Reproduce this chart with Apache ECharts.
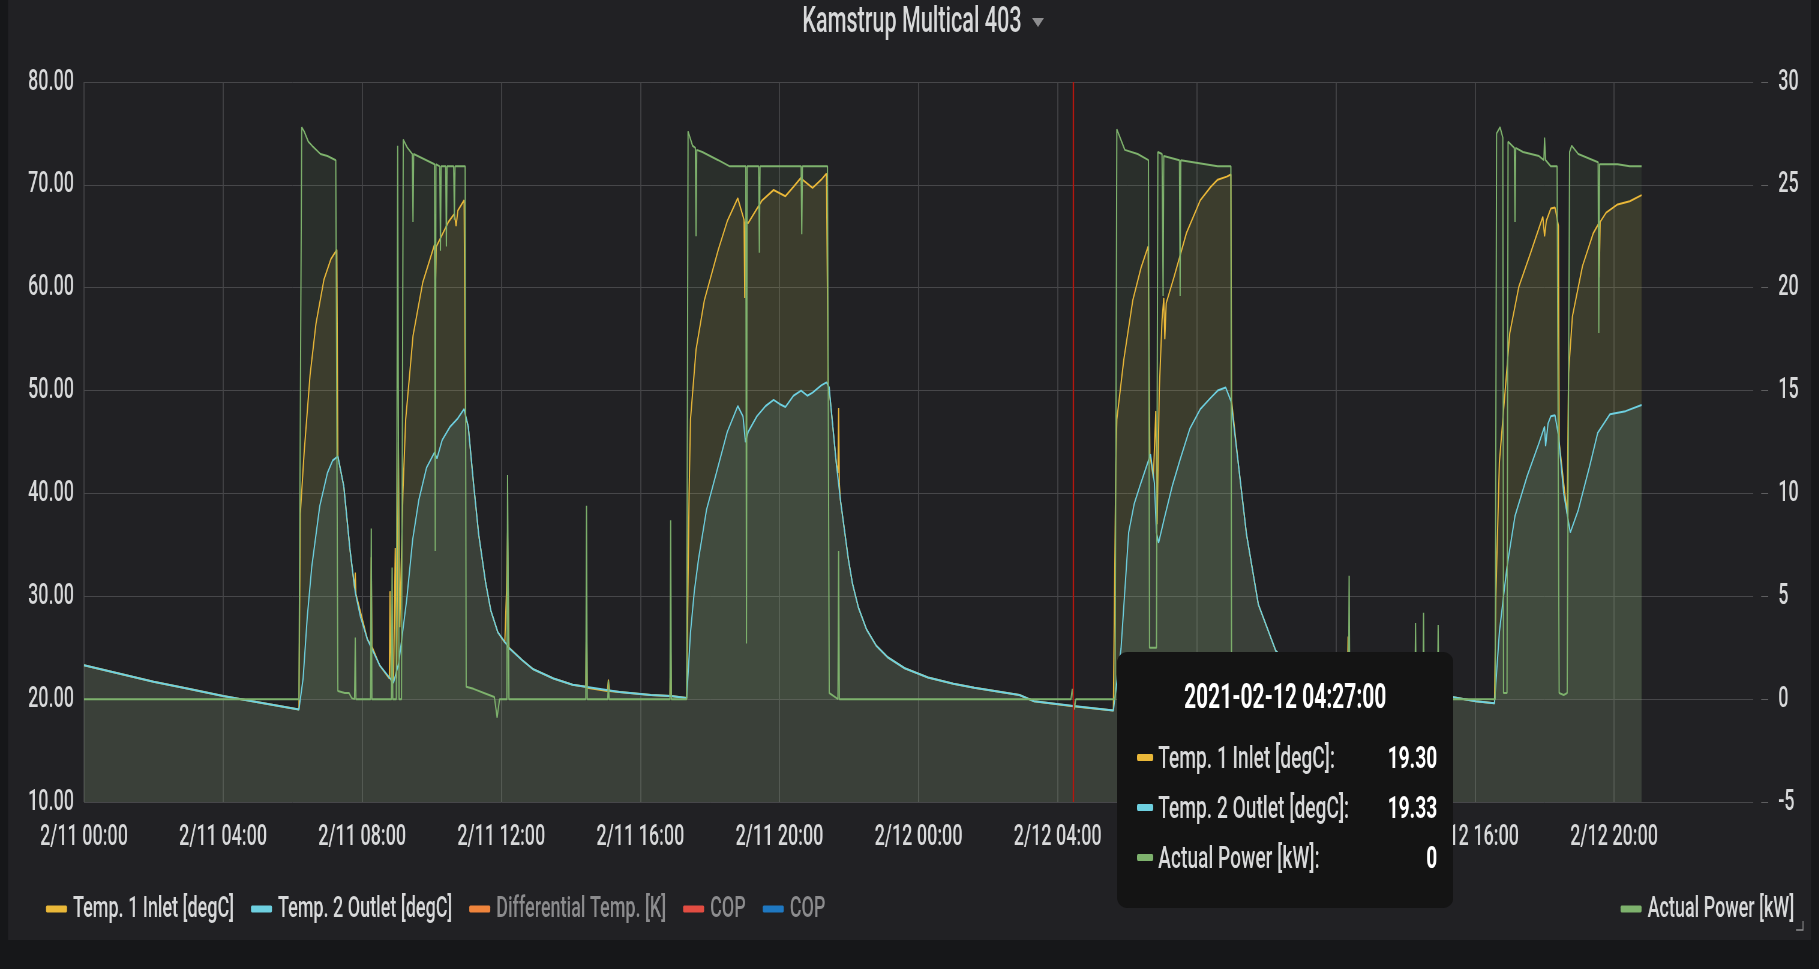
<!DOCTYPE html>
<html>
<head>
<meta charset="utf-8">
<script src="https://cdn.jsdelivr.net/npm/echarts@6/dist/echarts.min.js"></script>
<style>
  html, body { margin: 0; padding: 0; background: #161719; overflow: hidden; }
  #chart { width: 3032px; height: 969px; transform: scaleX(0.6); transform-origin: 0 0; }
</style>
</head>
<body>
<div id="chart"></div>
<script>
// ---------- data (x = hours since 2021-02-11 00:00) ----------
const xTickLabels = ['2/11 00:00','2/11 04:00','2/11 08:00','2/11 12:00','2/11 16:00','2/11 20:00',
  '2/12 00:00','2/12 04:00','2/12 08:00','2/12 12:00','2/12 16:00','2/12 20:00','2/13 00:00'];
const leftTicks = [10, 20, 30, 40, 50, 60, 70, 80];
const rightTicks = [-5, 0, 5, 10, 15, 20, 25, 30];

const inletTemp = [
[0,23.3],[1,22.5],[2,21.7],[3,21.0],[4,20.3],[5,19.7],[6.18,19.0],
[6.22,38.0],[6.33,44.0],[6.5,51.5],[6.67,56.5],[6.9,60.8],[7.1,62.8],[7.27,63.7],[7.3,43.6],
[7.47,40.7],[7.65,34.5],[7.78,30.8],[7.8,32.3],[7.82,30.2],[8.15,25.8],[8.24,25.3],[8.26,33.8],[8.28,25.1],[8.5,23.3],[8.78,22.0],[8.8,30.5],[8.83,21.8],[8.9,21.6],[8.95,34.7],[8.99,22.0],[9.04,45.0],[9.08,27.0],
[9.17,40.0],[9.25,47.2],[9.46,55.3],[9.74,60.5],[10.08,64.2],[10.1,59.0],[10.13,64.0],[10.48,66.4],[10.65,67.2],[10.7,66.0],[10.75,67.5],[10.93,68.5],[10.97,47.5],
[11.05,46.5],[11.2,41.0],[11.35,36.0],[11.55,31.3],[11.7,28.6],[11.9,26.5],[12.1,25.5],[12.15,30.6],[12.18,36.2],[12.22,25.0],[12.6,23.8],[12.92,22.9],[13.5,22.0],[14.05,21.4],[14.43,21.2],[14.45,29.2],[14.47,21.1],[15.05,20.8],[15.08,21.9],[15.11,20.8],[15.4,20.7],[16.3,20.4],[16.85,20.3],[16.87,26.0],[16.89,20.3],[17.33,20.1],
[17.4,40.0],[17.44,47.2],[17.6,54.0],[17.84,58.8],[18.24,63.7],[18.5,66.5],[18.8,68.7],[18.98,66.6],[19.0,59.0],[19.02,66.4],[19.1,66.3],[19.5,68.5],[19.83,69.5],[20.17,68.9],[20.4,69.8],[20.62,70.7],[20.64,69.5],[20.66,70.5],[20.95,69.7],[21.2,70.5],[21.35,71.1],[21.4,50.5],
[21.46,49.1],[21.64,42.7],[21.68,42.0],[21.7,48.3],[21.72,41.0],[21.75,39.4],[21.98,33.6],[22.1,31.2],[22.27,28.9],[22.5,26.8],[22.78,25.2],[23.1,24.1],[23.6,23.0],[24.27,22.1],[25.0,21.5],[25.6,21.1],[26.9,20.4],[27.32,19.8],[28.45,19.30],[29.6,18.9],
[29.67,42.7],[29.7,47.2],[29.9,53.0],[30.16,58.8],[30.4,62.0],[30.6,64.0],[30.65,43.8],[30.75,41.5],[30.82,48.0],[30.86,37.0],[30.92,50.0],[31.0,56.9],[31.05,59.0],[31.08,55.0],[31.12,58.5],[31.35,61.1],[31.7,65.3],[32.1,68.5],[32.4,69.8],[32.6,70.5],[32.86,70.8],[32.98,71.0],[33.0,49.0],
[33.2,42.7],[33.43,36.0],[33.77,29.2],[34.27,24.7],[34.8,23.0],[35.5,22.0],[36.33,21.3],[36.35,26.1],[36.37,21.2],[36.5,21.1],[37.5,20.6],[38.5,20.3],[39.34,20.2],[40.02,19.8],[40.56,19.6],
[40.6,30.0],[40.7,43.0],[40.8,47.2],[41.0,55.6],[41.26,60.1],[41.6,63.4],[41.95,66.9],[42.0,65.0],[42.05,66.5],[42.18,67.7],[42.3,67.8],[42.4,66.0],[42.42,45.0],[42.55,41.0],[42.65,38.0],[42.69,51.7],[42.8,57.2],[43.09,62.1],[43.4,65.3],[43.55,66.2],[43.57,61.0],[43.6,66.4],[43.77,67.3],[44.1,68.1],[44.45,68.4],[44.79,69.0]
];

const outletTemp = [
[0,23.3],[1,22.5],[2,21.7],[3,21.0],[4,20.3],[5,19.7],[6.18,19.0],
[6.3,22.0],[6.42,28.0],[6.55,32.9],[6.78,38.8],[7.0,42.0],[7.15,43.2],[7.3,43.6],[7.47,40.7],[7.65,34.5],[7.8,30.4],[7.95,28.0],[8.15,25.8],[8.5,23.3],[8.9,21.6],
[9.05,23.5],[9.28,29.7],[9.45,35.5],[9.63,39.4],[9.85,42.5],[10.08,44.0],[10.15,43.4],[10.3,45.2],[10.53,46.5],[10.75,47.3],[10.93,48.2],[11.05,46.5],[11.2,41.0],[11.35,36.0],[11.55,31.3],[11.7,28.6],[11.9,26.5],[12.24,24.9],[12.6,23.8],[12.92,22.9],[13.5,22.0],[14.05,21.4],[15.4,20.7],[16.3,20.4],[16.87,20.3],[17.33,20.1],
[17.44,26.5],[17.55,30.5],[17.67,33.6],[17.9,38.4],[18.24,42.7],[18.5,46.0],[18.8,48.5],[18.95,47.5],[19.02,45.0],[19.1,46.0],[19.35,47.5],[19.6,48.5],[19.83,49.1],[20.0,48.7],[20.17,48.4],[20.4,49.5],[20.62,50.0],[20.8,49.5],[20.95,49.8],[21.2,50.5],[21.35,50.8],[21.43,50.3],
[21.46,49.1],[21.64,42.7],[21.75,39.4],[21.98,33.6],[22.1,31.2],[22.27,28.9],[22.5,26.8],[22.78,25.2],[23.1,24.1],[23.6,23.0],[24.27,22.1],[25.0,21.5],[25.6,21.1],[26.9,20.4],[27.32,19.8],[28.45,19.33],[29.6,18.9],
[29.82,24.9],[30.04,36.2],[30.2,39.0],[30.39,41.0],[30.67,43.8],[30.78,41.0],[30.84,36.2],[30.9,35.2],[31.06,37.5],[31.3,40.8],[31.52,43.3],[31.8,46.3],[32.1,48.2],[32.4,49.3],[32.6,50.0],[32.83,50.3],[32.98,49.0],
[33.2,42.7],[33.43,36.0],[33.77,29.2],[34.27,24.7],[34.8,23.0],[35.5,22.0],[36.5,21.1],[37.5,20.6],[38.5,20.3],[39.34,20.2],[40.02,19.8],[40.56,19.6],
[40.7,26.5],[40.92,32.9],[41.15,37.8],[41.5,41.7],[41.84,44.9],[42.0,46.5],[42.03,44.6],[42.1,46.8],[42.18,47.5],[42.3,47.6],[42.4,45.6],[42.55,40.0],[42.74,36.2],[42.97,38.4],[43.3,42.7],[43.53,45.9],[43.88,47.7],[44.33,48.0],[44.79,48.6]
];

const actualPower = [
[0,0],[6.18,0],[6.26,27.8],[6.33,27.6],[6.45,27.1],[6.56,26.9],[6.8,26.5],[7.0,26.4],[7.24,26.2],[7.3,0.4],[7.5,0.3],[7.62,0.3],[7.7,0.05],[7.78,0],[7.8,3.0],[7.82,0],[8.24,0],[8.26,8.3],[8.28,0],[8.84,0],[8.86,6.4],[8.88,0],[8.98,0],[9.02,26.9],[9.06,0],[9.13,0],
[9.18,27.2],[9.3,26.8],[9.44,26.5],[9.46,23.2],[9.48,26.5],[10.08,26.0],[10.1,7.2],[10.12,26.0],[10.23,25.9],[10.25,21.8],[10.27,25.9],[10.4,25.9],[10.42,22.0],[10.44,25.9],[10.63,25.9],[10.65,23.3],[10.67,25.9],[10.96,25.9],[10.99,0.6],[11.2,0.5],[11.5,0.3],[11.8,0.1],[11.88,-0.9],[11.95,0],
[12.16,0],[12.18,10.9],[12.22,0],[14.43,0],[14.45,9.4],[14.47,0],[15.06,0],[15.08,0.9],[15.1,0],[16.85,0],[16.87,8.7],[16.89,0],[17.33,0],
[17.37,27.6],[17.5,26.9],[17.58,26.8],[17.6,22.5],[17.62,26.7],[17.78,26.6],[18.24,26.2],[18.57,25.9],[19.03,25.9],[19.05,2.7],[19.07,25.9],[19.4,25.9],[19.42,21.7],[19.44,25.9],[20.62,25.9],[20.64,22.6],[20.66,25.9],[21.38,25.9],[21.43,0.3],[21.6,0.1],[21.68,0],[21.7,7.2],[21.72,0],
[28.38,0],[28.42,0.5],[28.45,0],[28.48,-0.5],[28.52,0],[29.65,0],
[29.7,27.7],[29.93,26.7],[30.3,26.5],[30.61,26.2],[30.64,2.5],[30.84,2.5],[30.88,26.6],[31.0,26.5],[31.03,19.6],[31.05,26.4],[31.5,26.2],[31.52,19.6],[31.54,26.2],[32.6,25.9],[32.98,25.9],[33.0,0],
[36.36,0],[36.38,6.0],[36.4,0],[38.27,0],[38.29,3.7],[38.31,0],[38.5,0],[38.52,4.2],[38.54,0],[38.92,0],[38.94,3.6],[38.96,0],[40.58,0],
[40.62,27.5],[40.72,27.8],[40.8,27.3],[40.82,0.3],[40.92,0.3],[40.95,27.1],[41.13,26.8],[41.15,23.2],[41.17,26.8],[41.38,26.6],[41.84,26.4],[41.98,26.2],[42.0,27.3],[42.03,26.2],[42.18,25.9],[42.36,25.9],[42.42,0.3],[42.55,0.2],[42.65,0.3],
[42.72,26.6],[42.78,26.9],[42.97,26.5],[43.4,26.2],[43.54,26.1],[43.56,17.8],[43.58,26.0],[44.1,26.0],[44.45,25.9],[44.79,25.9]
];
const diffTemp = [];
const cop1 = [];
const cop2 = [];
const cursorHour = 28.45; // 2021-02-12 04:27:00

// ---------- layout helpers (page is squeezed horizontally by S) ----------
const S = 0.6;
const W = 1819 / S;
const px = v => v / S;

const TEXT = '#d8d9da';
const GRID = '#47474a';
const FONT = 'Roboto';

function pad(n) { return (n < 10 ? '0' : '') + n; }
function hourToStamp(h) {
  const totalMin = Math.round(h * 60);
  const day = 11 + Math.floor(totalMin / 1440);
  const hh = Math.floor((totalMin % 1440) / 60);
  const mm = totalMin % 60;
  return '2021-02-' + pad(day) + ' ' + pad(hh) + ':' + pad(mm) + ':00';
}

const chart = echarts.init(document.getElementById('chart'), null, { renderer: 'canvas' });

function mkSeries(name, color, data, yAxisIndex) {
  return {
    name, type: 'line', data, yAxisIndex,
    showSymbol: false, symbol: 'none', animation: false,
    color: color,
    lineStyle: { color, width: 2 },
    itemStyle: { color },
    areaStyle: { color, opacity: 0.1 },
    emphasis: { disabled: true }
  };
}

const option = {
  animation: false,
  backgroundColor: '#212124',
  textStyle: { fontFamily: FONT },
  grid: { left: px(84), right: W - px(1753), top: 82, bottom: 167, containLabel: false },
  xAxis: {
    type: 'value', min: 0, max: 48, interval: 4,
    axisLine: { show: false }, axisTick: { show: false },
    axisLabel: {
      color: TEXT, fontSize: 30, fontWeight: 500, fontFamily: FONT, margin: 20,
      showMaxLabel: false,
      formatter: v => xTickLabels[Math.round(v / 4)]
    },
    splitLine: { show: true, showMinLine: true, showMaxLine: false, lineStyle: { color: GRID, width: 1.67 } }
  },
  yAxis: [
    {
      type: 'value', min: leftTicks[0], max: leftTicks[leftTicks.length - 1], interval: 10,
      axisLine: { show: false }, axisTick: { show: false },
      axisLabel: { color: TEXT, fontSize: 30, fontWeight: 500, fontFamily: FONT, margin: px(10), formatter: v => v.toFixed(2) },
      splitLine: { show: true, lineStyle: { color: GRID, width: 1 } }
    },
    {
      type: 'value', position: 'right', min: rightTicks[0], max: rightTicks[rightTicks.length - 1], interval: 5,
      offset: px(8),
      axisLine: { show: false },
      axisTick: { show: true, length: px(7), lineStyle: { color: '#5e5e60', width: 1 } },
      axisLabel: { color: TEXT, fontSize: 30, fontWeight: 500, fontFamily: FONT, margin: px(17) },
      splitLine: { show: false }
    }
  ],
  legend: [
    {
      left: px(43), top: 889, orient: 'horizontal', icon: 'roundRect',
      itemWidth: px(21), itemHeight: 7, itemGap: px(17),
      textStyle: { color: TEXT, fontSize: 30, fontWeight: 500, fontFamily: FONT, padding: [0, 0, 0, 5] },
      selectedMode: false,
      data: [
        { name: 'Temp. 1 Inlet [degC]' },
        { name: 'Temp. 2 Outlet [degC]' },
        { name: 'Differential Temp. [K]', textStyle: { color: '#8c8c8e' } },
        { name: 'COP', textStyle: { color: '#8c8c8e' } },
        { name: 'COP\u200B', textStyle: { color: '#8c8c8e' } }
      ]
    },
    {
      right: W - px(1797), top: 889, icon: 'roundRect',
      itemWidth: px(21), itemHeight: 7,
      textStyle: { color: TEXT, fontSize: 30, fontWeight: 500, fontFamily: FONT, padding: [0, 0, 0, 5] },
      selectedMode: false,
      data: [{ name: 'Actual Power [kW]' }]
    }
  ],
  tooltip: {
    show: true, trigger: 'axis', triggerOn: 'none', alwaysShowContent: true,
    transitionDuration: 0, confine: false,
    backgroundColor: '#141414', borderWidth: 0, padding: 0,
    extraCssText: 'box-shadow:none;border-radius:17px/10px;',
    position: [px(1117), 652],
    axisPointer: { type: 'line', animation: false, z: 50, label: { show: false }, lineStyle: { color: '#b3170f', width: 2.4, type: 'solid' } },
    formatter: function (params) {
      const shown = params.filter(p => p.value && p.value.length);
      let html = '<div style="width:' + px(336) + 'px;height:256px;box-sizing:border-box;padding-top:20px;font-family:Roboto;">';
      html += '<div style="text-align:center;font:700 35px/50px Roboto;color:#ffffff;">' + hourToStamp(shown[0].value[0]) + '</div>';
      html += '<div style="height:10px"></div>';
      shown.forEach(p => {
        const v = p.value[1];
        const txt = p.seriesName.indexOf('Power') >= 0 ? String(v) : v.toFixed(2);
        html += '<div style="display:flex;align-items:center;height:50px;padding:0 ' + px(16) + 'px 0 ' + px(20) + 'px;font:500 32px Roboto;color:' + TEXT + ';">' +
          '<span style="display:inline-block;width:' + px(16) + 'px;height:7px;border-radius:2px;background:' + p.color + ';margin-right:' + px(5) + 'px"></span>' +
          '<span style="flex:1">' + p.seriesName + ':</span>' +
          '<span style="font-weight:700;color:#ffffff">' + txt + '</span></div>';
      });
      html += '</div>';
      return html;
    }
  },
  graphic: [
    { type: 'rect', silent: true, shape: { x: 0, y: 0, width: px(8), height: 969 }, style: { fill: '#161719' } },
    { type: 'rect', silent: true, shape: { x: 0, y: 940, width: W, height: 29 }, style: { fill: '#161719' } },
    { type: 'rect', silent: true, shape: { x: px(1811), y: 0, width: W - px(1811), height: 969 }, style: { fill: '#161719' } },
    { type: 'text', silent: true, x: px(912), y: 23,
      style: { text: 'Kamstrup Multical 403', fill: TEXT, font: '500 36px Roboto', textAlign: 'center', textVerticalAlign: 'middle' } },
    { type: 'polygon', silent: true,
      shape: { points: [[px(1032), 18], [px(1044), 18], [px(1038), 27]] }, style: { fill: '#8e8e90' } },
    { type: 'polyline', silent: true,
      shape: { points: [[px(1803), 921], [px(1803), 930], [px(1796), 930]] }, style: { stroke: '#8e8e90', lineWidth: 1.5, fill: null } }
  ],
  series: [
    mkSeries('Temp. 1 Inlet [degC]', '#EAB839', inletTemp, 0),
    mkSeries('Temp. 2 Outlet [degC]', '#6ED0E0', outletTemp, 0),
    mkSeries('Differential Temp. [K]', '#EF843C', diffTemp, 0),
    mkSeries('COP', '#E24D42', cop1, 0),
    mkSeries('COP\u200B', '#1F78C1', cop2, 0),
    mkSeries('Actual Power [kW]', '#7EB26D', actualPower, 1)
  ]
};

chart.setOption(option);
const pt = chart.convertToPixel({ xAxisIndex: 0, yAxisIndex: 0 }, [cursorHour, 50]);
chart.dispatchAction({ type: 'showTip', x: pt[0], y: pt[1] });
</script>
</body>
</html>
